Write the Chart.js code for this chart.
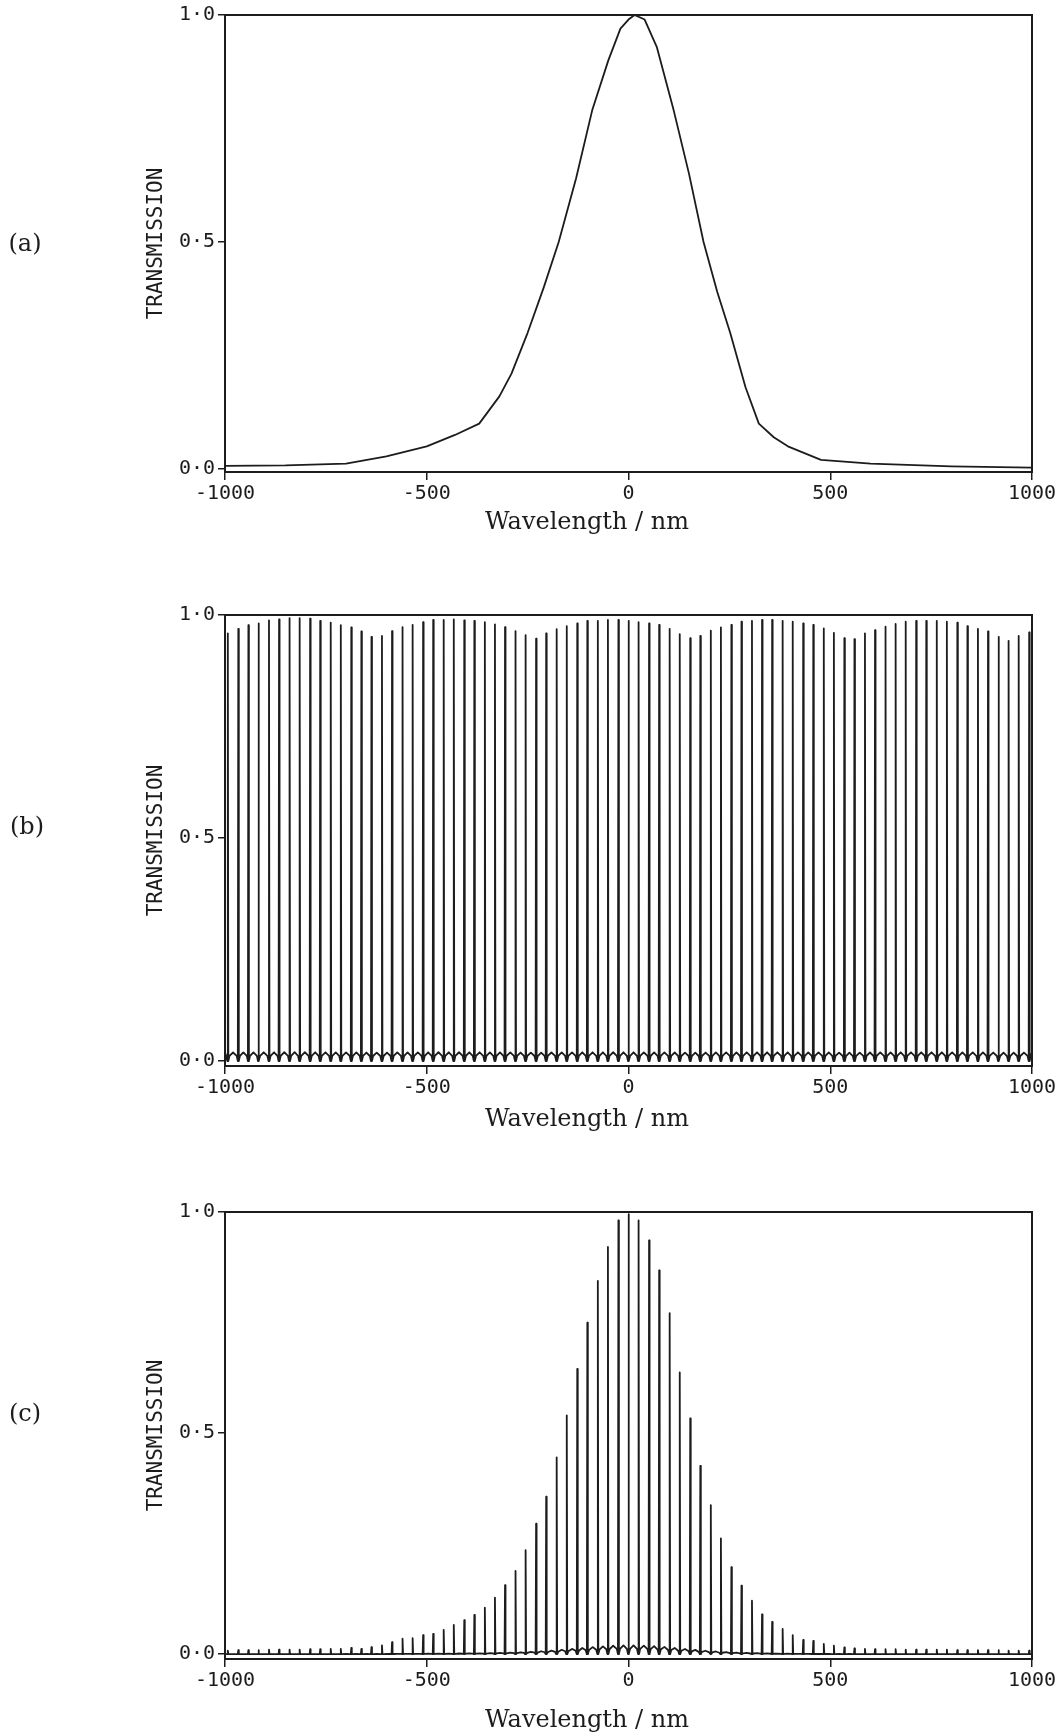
<!DOCTYPE html>
<html>
<head>
<meta charset="utf-8">
<script src="https://cdn.jsdelivr.net/npm/chart.js@4.4.1/dist/chart.umd.min.js"></script>
<style>
  body { margin: 0; background: #fff; width: 1059px; height: 1736px; position: relative; overflow: hidden; }
  canvas { position: absolute; left: 0; }
  .tag, .xt { position: absolute; font-family: "DejaVu Serif", serif; color: #1c1c1c; transform: translate(-50%, -50%); white-space: nowrap; }
  .tag { font-size: 24px; }
  .xt { font-size: 24px; }
</style>
</head>
<body>
<canvas id="chartA" width="1059" height="520" style="top:0px"></canvas>
<canvas id="chartB" width="1059" height="524" style="top:590px"></canvas>
<canvas id="chartC" width="1059" height="517" style="top:1190px"></canvas>

<div class="tag" style="left:25px;top:243px">(a)</div>
<div class="tag" style="left:27px;top:826px">(b)</div>
<div class="tag" style="left:25px;top:1413px">(c)</div>
<div class="xt" style="left:587px;top:521px">Wavelength / nm</div>
<div class="xt" style="left:587px;top:1118px">Wavelength / nm</div>
<div class="xt" style="left:587px;top:1719px">Wavelength / nm</div>

<script>
// (a) single broad filter
const waveA  = [-1000, -850, -700, -600, -500, -430, -370, -320, -290, -250, -210, -173, -130, -90, -50, -20, 0, 15, 40, 70, 112, 150, 186, 220, 252, 290, 323, 360, 395, 477, 600, 800, 1000];
const transA = [0.007, 0.008, 0.012, 0.028, 0.05, 0.075, 0.10, 0.16, 0.21, 0.30, 0.40, 0.50, 0.64, 0.79, 0.90, 0.97, 0.99, 1.0, 0.99, 0.93, 0.79, 0.65, 0.50, 0.39, 0.30, 0.18, 0.10, 0.07, 0.05, 0.02, 0.012, 0.006, 0.003];

// comb peak positions (nm), shared by (b) and (c)
const peakNm = [-993, -967, -942, -917, -891, -866, -840, -815, -789, -764, -738, -713, -687, -662, -637, -611, -586, -560, -535, -509,
  -484, -458, -433, -407, -382, -356, -331, -306, -280, -255, -229, -204, -178, -153, -127, -102, -76, -51, -25, 0,
  25, 51, 76, 102, 127, 153, 178, 204, 229, 255, 280, 306, 331, 356, 382, 407, 433, 458, 484, 509,
  535, 560, 586, 611, 637, 662, 687, 713, 738, 764, 789, 815, 840, 866, 891, 917, 942, 967, 993];

// (b) peak heights
const transB = [0.959, 0.969, 0.977, 0.981, 0.988, 0.990, 0.993, 0.993, 0.992, 0.987, 0.983, 0.977, 0.972, 0.963, 0.951, 0.953, 0.964, 0.973, 0.978, 0.984,
  0.989, 0.989, 0.990, 0.988, 0.987, 0.984, 0.979, 0.973, 0.964, 0.955, 0.947, 0.959, 0.968, 0.975, 0.981, 0.987, 0.987, 0.989, 0.989, 0.987,
  0.984, 0.981, 0.978, 0.969, 0.957, 0.948, 0.953, 0.965, 0.972, 0.978, 0.985, 0.987, 0.989, 0.989, 0.987, 0.985, 0.981, 0.978, 0.970, 0.960,
  0.948, 0.946, 0.959, 0.966, 0.974, 0.980, 0.985, 0.987, 0.987, 0.987, 0.985, 0.983, 0.975, 0.969, 0.963, 0.951, 0.942, 0.953, 0.961];

// (c) peak heights
const transC = [0.008, 0.009, 0.009, 0.009, 0.010, 0.010, 0.010, 0.010, 0.011, 0.011, 0.012, 0.012, 0.014, 0.012, 0.016, 0.020, 0.027, 0.035, 0.036, 0.043,
  0.046, 0.055, 0.066, 0.077, 0.089, 0.105, 0.128, 0.156, 0.188, 0.235, 0.295, 0.356, 0.445, 0.540, 0.645, 0.750, 0.844, 0.921, 0.981, 0.995,
  0.981, 0.936, 0.868, 0.771, 0.637, 0.533, 0.426, 0.337, 0.262, 0.197, 0.155, 0.121, 0.090, 0.073, 0.057, 0.043, 0.032, 0.030, 0.023, 0.019,
  0.015, 0.013, 0.012, 0.011, 0.011, 0.011, 0.010, 0.010, 0.010, 0.010, 0.010, 0.009, 0.009, 0.009, 0.009, 0.009, 0.008, 0.008, 0.008];

const xTicks = [-1000, -500, 0, 500, 1000];
const yTicks = [0, 0.5, 1.0];

const INK = '#1c1c1c';
const tickFont = { family: 'DejaVu Sans Mono', size: 20 };

// spike shape: narrow base, small hump between neighbouring peaks
const footNm = 1.2, shoulderNm = 4;
const shoulderLevel = 0.012, humpLevel = 0.02;

function combPoints(heights) {
  const pts = [{ x: -1000, y: humpLevel * heights[0] }];
  for (let i = 0; i < peakNm.length; i++) {
    const p = peakNm[i], h = heights[i];
    pts.push({ x: p - shoulderNm, y: shoulderLevel * h });
    pts.push({ x: p - footNm, y: 0 });
    pts.push({ x: p, y: h });
    pts.push({ x: p + footNm, y: 0 });
    pts.push({ x: p + shoulderNm, y: shoulderLevel * h });
    if (i < peakNm.length - 1) {
      pts.push({ x: (p + peakNm[i + 1]) / 2, y: humpLevel * (h + heights[i + 1]) / 2 });
    }
  }
  pts.push({ x: 1000, y: humpLevel * heights[heights.length - 1] });
  return pts;
}

const frame = {
  id: 'frame',
  afterDatasetsDraw(chart) {
    const { ctx, chartArea: a } = chart;
    ctx.save();
    ctx.strokeStyle = INK;
    ctx.lineWidth = 2;
    ctx.strokeRect(a.left, a.top, a.right - a.left, a.bottom - a.top);
    ctx.restore();
  }
};

function makeOptions(yMin, padTop) {
  return {
    responsive: false,
    animation: false,
    layout: { padding: { left: 140, right: 27, top: padTop, bottom: 8 } },
    plugins: { legend: { display: false }, tooltip: { enabled: false } },
    scales: {
      x: {
        type: 'linear', min: -1000, max: 1000,
        afterBuildTicks: s => { s.ticks = xTicks.map(v => ({ value: v })); },
        afterFit: s => { s.height = 40; },
        grid: { drawOnChartArea: false, drawTicks: true, tickLength: 8, color: INK, lineWidth: 1.5 },
        border: { display: true, color: INK, width: 2 },
        ticks: { font: tickFont, color: INK, padding: 2, maxRotation: 0, callback: v => String(v) }
      },
      y: {
        min: yMin, max: 1,
        afterBuildTicks: s => { s.ticks = yTicks.map(v => ({ value: v })); },
        afterFit: s => { s.width = 85; },
        grid: { drawOnChartArea: false, drawTicks: true, tickLength: 7, color: INK, lineWidth: 1.5 },
        border: { display: true, color: INK, width: 2 },
        ticks: { font: tickFont, color: INK, padding: 3, callback: v => v.toFixed(1).replace('.', '·') },
        title: { display: true, text: 'TRANSMISSION', color: INK, font: { family: 'DejaVu Sans Mono', size: 21 }, padding: { top: 4, bottom: 4 } }
      }
    }
  };
}

function lineSet(points, width) {
  return {
    data: points,
    borderColor: INK,
    borderWidth: width,
    pointRadius: 0,
    tension: 0,
    fill: false,
    borderJoinStyle: 'round',
    borderCapStyle: 'round'
  };
}

new Chart(document.getElementById('chartA'), {
  type: 'line',
  data: { datasets: [lineSet(waveA.map((w, i) => ({ x: w, y: transA[i] })), 1.8)] },
  options: makeOptions(-0.0066, 15),
  plugins: [frame]
});

new Chart(document.getElementById('chartB'), {
  type: 'line',
  data: { datasets: [lineSet(combPoints(transB), 1.8)] },
  options: makeOptions(-0.011, 25),
  plugins: [frame]
});

new Chart(document.getElementById('chartC'), {
  type: 'line',
  data: { datasets: [lineSet(combPoints(transC), 1.8)] },
  options: makeOptions(-0.011, 22),
  plugins: [frame]
});
</script>
</body>
</html>
